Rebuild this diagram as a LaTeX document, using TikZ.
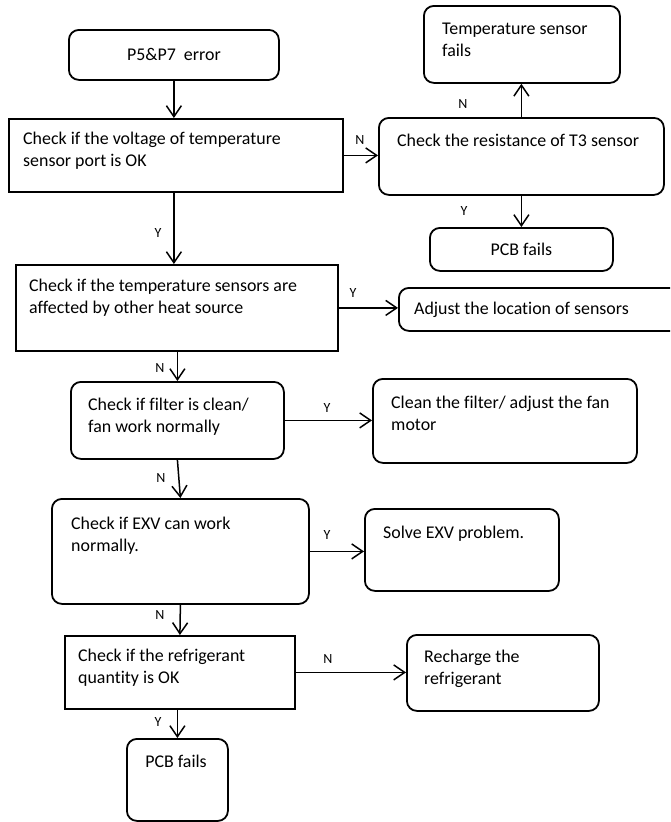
\documentclass[tikz,border=0pt]{standalone}
\usepackage{fontspec}
\setmainfont{Carlito}[Ligatures=CommonOff]
\usetikzlibrary{arrows.meta}
\begin{document}
\begin{tikzpicture}[x=1pt,y=-1pt,
  bx/.style={draw, line width=1.8pt, inner sep=0pt, anchor=north west},
  rbx/.style={bx, rounded corners=10pt},
  txt/.style={inner sep=0pt, align=left, anchor=base west, font=\fontsize{17.9}{22}\selectfont},
  ctxt/.style={inner sep=0pt, font=\fontsize{17.9}{22}\selectfont},
  lbl/.style={inner sep=0pt, font=\fontsize{14}{16}\selectfont},
  arr/.style={-{Straight Barb[length=11pt,width=15pt,line width=1.5pt]}, line width=1.5pt}]
\clip (0,0) rectangle (670,822);
\fill[white] (0,0) rectangle (670,822);
% boxes
\node[rbx, minimum width=210pt, minimum height=50pt, ctxt] (start) at (68,29) {P5\&P7\ \ error};
\node[bx, minimum width=334pt, minimum height=73pt] (chk1) at (8,118) {};
\node[txt] (t1) at (23,166) {Check if the voltage of temperature\\sensor port is OK};
\node[rbx, minimum width=285pt, minimum height=77pt] (res) at (378,117) {};
\node[txt] (tres) at (397,146) {Check the resistance of T3 sensor};
\node[rbx, minimum width=196pt, minimum height=77pt] (tsf) at (423,5) {};
\node[txt] (ttsf) at (442,56) {Temperature sensor\\fails};
\node[rbx, minimum width=183pt, minimum height=43pt, ctxt] (pcb1) at (429,227) {PCB fails};
\node[bx, minimum width=322pt, minimum height=86pt] (chk2) at (15,264) {};
\node[txt] (t2) at (29,313) {Check if the temperature sensors are\\affected by other heat source};
\node[rbx, minimum width=290pt, minimum height=43pt] (adj) at (398,287) {};
\node[txt] (tadj) at (414,314) {Adjust the location of sensors};
\node[rbx, minimum width=213pt, minimum height=77pt] (chk3) at (70,381) {};
\node[txt] (t3) at (88,432) {Check if filter is clean/\\fan work normally};
\node[rbx, minimum width=264pt, minimum height=84pt] (clean) at (372,378) {};
\node[txt] (tclean) at (391,430) {Clean the filter/ adjust the fan\\motor};
\node[rbx, minimum width=257pt, minimum height=105pt] (chk4) at (51,498) {};
\node[txt] (t4) at (71,551) {Check if EXV can work\\normally.};
\node[rbx, minimum width=194pt, minimum height=82pt] (solve) at (364,508) {};
\node[txt] (tsolve) at (383,538) {Solve EXV problem.};
\node[bx, minimum width=230pt, minimum height=73pt] (chk5) at (64,635) {};
\node[txt] (t5) at (78,683) {Check if the refrigerant\\quantity is OK};
\node[rbx, minimum width=192pt, minimum height=76pt] (rech) at (406,634) {};
\node[txt] (trech) at (424,684) {Recharge the\\refrigerant};
\node[rbx, minimum width=101pt, minimum height=82pt] (pcb2) at (126,738) {};
\node[ctxt, anchor=base] (tpcb2) at (176,767) {PCB fails};
% connectors
\draw[arr] (start.south) -- (start.south |- chk1.north);
\draw[arr] (chk1.east) -- (chk1.east -| res.west);
\draw[arr] (res.north) -- (res.north |- tsf.south);
\draw[arr] (res.south) -- (res.south |- pcb1.north);
\draw[arr] (chk1.south -| start.south) -- (chk2.north -| start.south);
\draw[arr] (chk2.east) -- (chk2.east -| adj.west);
\draw[arr] (chk3.north |- chk2.south) -- (chk3.north);
\draw[arr] (chk3.east) -- (chk3.east -| clean.west);
\draw[arr] (chk3.south) -- (chk4.north);
\draw[arr] (chk4.east) -- (chk4.east -| solve.west);
\draw[arr] (chk4.south) -- (chk5.north);
\draw[arr] (chk5.east) -- (chk5.east -| rech.west);
\draw[arr] (pcb2.north |- chk5.south) -- (pcb2.north);
% labels
\node[lbl] (l1) at (360,140) {N};
\node[lbl] (l2) at (463,104) {N};
\node[lbl] (l3) at (464,211) {Y};
\node[lbl] (l4) at (158,233) {Y};
\node[lbl] (l5) at (353,293) {Y};
\node[lbl] (l6) at (160,368) {N};
\node[lbl] (l7) at (327,408) {Y};
\node[lbl] (l8) at (161,478) {N};
\node[lbl] (l9) at (327,535) {Y};
\node[lbl] (l10) at (160,615) {N};
\node[lbl] (l11) at (328,659) {N};
\node[lbl] (l12) at (158,722) {Y};
\end{tikzpicture}
\end{document}
